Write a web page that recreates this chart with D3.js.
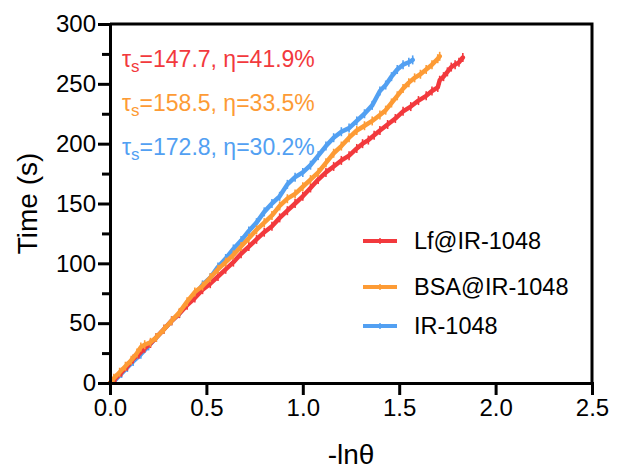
<!DOCTYPE html>
<html>
<head>
<meta charset="utf-8">
<script src="https://cdn.jsdelivr.net/npm/d3@7"></script>
<style>
  body { margin: 0; background: #fff; }
  text { font-family: Arial, "Liberation Sans", Helvetica, sans-serif; }
</style>
</head>
<body>
<div id="chart"></div>
<script>
// series: [-ln(theta), time in s]
var lfData = [[0,0],[0.03,4],[0.06,9],[0.09,14],[0.12,20],[0.15,24],[0.18,29],[0.21,33],[0.24,38],[0.28,45],
  [0.32,52],[0.36,58],[0.40,65],[0.44,71],[0.48,78],[0.52,83],[0.56,89],[0.60,95],[0.64,101],[0.68,108],
  [0.72,114],[0.76,120],[0.80,126],[0.84,131],[0.88,138],[0.92,144],[0.96,150],[1.00,156],[1.04,163],[1.08,170],
  [1.12,176],[1.16,181],[1.20,186],[1.24,190],[1.28,196],[1.31,200],[1.34,203],[1.37,207],[1.40,211],[1.44,216],
  [1.48,221],[1.52,227],[1.56,231],[1.60,236],[1.64,240],[1.67,244],[1.70,247],[1.71,253],[1.73,256],[1.75,260],
  [1.77,264],[1.79,266],[1.81,268],[1.83,272]];
var bsaData = [[0,0],[0.02,4],[0.05,9],[0.08,14],[0.11,19],[0.14,25],[0.16,30],[0.18,32],[0.21,34],[0.24,38],
  [0.28,45],[0.32,52],[0.36,59],[0.40,68],[0.44,76],[0.48,81],[0.52,88],[0.56,95],[0.60,101],[0.64,107],
  [0.68,114],[0.72,121],[0.76,128],[0.80,134],[0.84,140],[0.88,148],[0.92,154],[0.96,158],[1.00,164],[1.04,170],
  [1.08,176],[1.12,184],[1.16,192],[1.20,198],[1.24,205],[1.28,211],[1.32,215],[1.36,219],[1.40,224],[1.43,228],
  [1.46,234],[1.49,240],[1.52,246],[1.55,251],[1.58,255],[1.61,258],[1.64,262],[1.67,266],[1.70,271],[1.71,273]];
var irData = [[0,0],[0.03,3],[0.06,8],[0.09,13],[0.12,18],[0.16,24],[0.20,31],[0.24,38],[0.28,45],[0.32,52],
  [0.36,58],[0.40,66],[0.44,73],[0.48,82],[0.52,88],[0.56,97],[0.60,104],[0.64,112],[0.68,119],[0.72,127],
  [0.76,134],[0.80,143],[0.84,150],[0.88,156],[0.92,166],[0.96,172],[1.00,176],[1.04,182],[1.08,190],[1.12,198],
  [1.16,205],[1.20,210],[1.24,213],[1.28,219],[1.32,225],[1.36,232],[1.40,244],[1.43,249],[1.46,256],[1.49,262],
  [1.52,266],[1.55,268],[1.57,270]];

var seriesNames = ["Lf@IR-1048", "BSA@IR-1048", "IR-1048"];
var seriesColors = ["#f2393d", "#fd9b35", "#52a0f2"];
var tauLabels = ["147.7", "158.5", "172.8"];
var etaLabels = ["41.9%", "33.5%", "30.2%"];
var xTicks = [0, 0.5, 1.0, 1.5, 2.0, 2.5];
var yTicks = [0, 50, 100, 150, 200, 250, 300];
var yMinorTicks = [25, 75, 125, 175, 225, 275];

var width = 617, height = 470;
var plotLeft = 110, plotRight = 592, plotTop = 24, plotBottom = 383;

var svg = d3.select("#chart")
  .append("svg")
    .attr("width", width)
    .attr("height", height)
    .style("background", "#fff");

var x = d3.scaleLinear().domain([0, 2.5]).range([plotLeft, plotRight]);
var y = d3.scaleLinear().domain([0, 300]).range([plotBottom, plotTop]);

var line = d3.line()
  .x(function(d) { return x(d[0]); })
  .y(function(d) { return y(d[1]); });

// draw order: IR, Lf, BSA (orange sits on top)
var drawOrder = [[irData, 2], [lfData, 0], [bsaData, 1]];
drawOrder.forEach(function(s) {
  var g = svg.append("g");
  g.append("path")
    .datum(s[0])
    .attr("d", line)
    .attr("fill", "none")
    .attr("stroke", seriesColors[s[1]])
    .attr("stroke-width", 4.5)
    .attr("stroke-linejoin", "round")
    .attr("stroke-linecap", "round");
  // small tick markers on each point
  g.selectAll("line.mk")
    .data(s[0])
    .enter()
    .append("line")
      .attr("class", "mk")
      .attr("x1", function(d) { return x(d[0]); })
      .attr("x2", function(d) { return x(d[0]); })
      .attr("y1", function(d) { return y(d[1]) - 4.5; })
      .attr("y2", function(d) { return y(d[1]) + 4.5; })
      .attr("stroke", seriesColors[s[1]])
      .attr("stroke-width", 1.6);
});

// axes
var xAxis = svg.append("g")
  .attr("transform", "translate(0," + plotBottom + ")")
  .call(d3.axisBottom(x).tickValues(xTicks).tickFormat(d3.format(".1f")).tickSize(12).tickPadding(4));
var yAxis = svg.append("g")
  .attr("transform", "translate(" + plotLeft + ",0)")
  .call(d3.axisLeft(y).tickValues(yTicks).tickFormat(d3.format("d")).tickSize(12).tickPadding(2));
svg.append("g")
  .attr("transform", "translate(" + plotLeft + ",0)")
  .call(d3.axisLeft(y).tickValues(yMinorTicks).tickFormat("").tickSize(8))
  .select(".domain").remove();

[xAxis, yAxis].forEach(function(g) {
  g.selectAll("path.domain").attr("stroke", "#000").attr("stroke-width", 3);
  g.selectAll(".tick text")
    .attr("fill", "#000")
    .style("font-size", "24px")
    .style("font-family", "Arial, 'Liberation Sans', sans-serif");
});
svg.selectAll(".tick line").attr("stroke", "#000").attr("stroke-width", 3);

// box frame top and right
svg.append("path")
  .attr("d", "M" + plotLeft + "," + plotTop + "H" + plotRight + "V" + plotBottom)
  .attr("fill", "none")
  .attr("stroke", "#000")
  .attr("stroke-width", 3);

// axis titles
svg.append("text")
  .attr("x", (plotLeft + plotRight) / 2)
  .attr("y", 464)
  .attr("text-anchor", "middle")
  .style("font-size", "28px")
  .text("-ln\u03b8");
svg.append("text")
  .attr("transform", "translate(37," + (plotTop + plotBottom) / 2 + ") rotate(-90)")
  .attr("text-anchor", "middle")
  .style("font-size", "28px")
  .text("Time (s)");

// fit annotations
seriesNames.forEach(function(n, i) {
  var t = svg.append("text")
    .attr("x", 122)
    .attr("y", 67 + i * 44)
    .attr("fill", seriesColors[i])
    .style("font-size", "23px");
  t.append("tspan").text("\u03c4");
  t.append("tspan").attr("dy", 5).style("font-size", "17px").text("s");
  t.append("tspan").attr("dy", -5).text("=" + tauLabels[i] + ", \u03b7=" + etaLabels[i]);
});

// legend
var legendY = [241, 287, 326];
seriesNames.forEach(function(n, i) {
  svg.append("line")
    .attr("x1", 363).attr("x2", 397)
    .attr("y1", legendY[i]).attr("y2", legendY[i])
    .attr("stroke", seriesColors[i])
    .attr("stroke-width", 4);
  svg.append("line")
    .attr("x1", 380).attr("x2", 380)
    .attr("y1", legendY[i] - 3).attr("y2", legendY[i] + 3)
    .attr("stroke", seriesColors[i])
    .attr("stroke-width", 1.5);
  svg.append("text")
    .attr("x", 414)
    .attr("y", legendY[i] + 8)
    .style("font-size", "23.5px")
    .attr("fill", "#000")
    .text(n);
});
</script>
</body>
</html>
